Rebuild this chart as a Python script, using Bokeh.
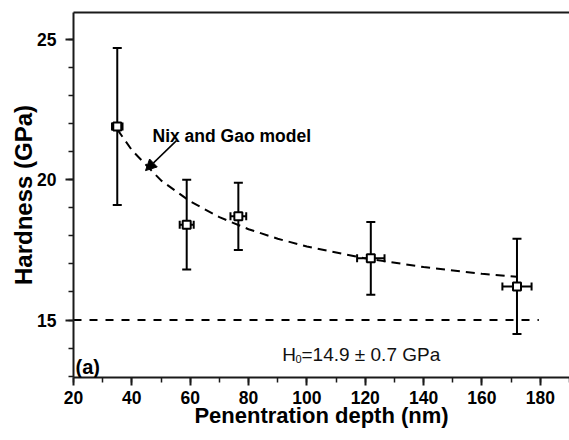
from bokeh.plotting import figure
from bokeh.models import (Whisker, TeeHead, Label, Arrow, NormalHead, LinearAxis,
                          ColumnDataSource, Range1d, FixedTicker)
from bokeh.embed import file_html
from bokeh.resources import INLINE

# ---- data ----
depth = [35.0, 58.8, 76.5, 121.9, 172.0]          # nm
depth_err = [1.8, 2.4, 2.7, 4.7, 5.0]              # nm
hardness = [21.9, 18.4, 18.7, 17.2, 16.2]          # GPa
hardness_err = [2.8, 1.6, 1.2, 1.3, 1.7]           # GPa

model_depth = [35, 40, 50, 60, 70, 80, 90, 100, 120, 140, 160, 172]
model_hardness = [21.8, 21.06, 19.98, 19.23, 18.67, 18.24, 17.90, 17.62, 17.20, 16.89, 16.65, 16.54]

h0_depth = [20, 179.5]
h0_hardness = [15.0, 15.0]

x_ticks = [20, 40, 60, 80, 100, 120, 140, 160, 180]
y_ticks = [15, 20, 25]

FONT = "Liberation Sans"
AX = "#1a1a1a"

p = figure(width=569, height=440, x_range=Range1d(20, 190), y_range=Range1d(12.95, 25.97),
           output_backend="svg", toolbar_location=None,
           min_border_left=73, min_border_right=0, min_border_top=12, min_border_bottom=63)
p.grid.visible = False
p.outline_line_color = None
p.background_fill_color = "white"
p.border_fill_color = "white"

for ax in (p.xaxis[0], p.yaxis[0]):
    ax.axis_line_width = 2
    ax.axis_line_color = AX
    ax.major_tick_line_width = 2
    ax.major_tick_line_color = AX
    ax.minor_tick_line_width = 1.5
    ax.minor_tick_line_color = AX
    ax.major_tick_in = 0
    ax.major_tick_out = 8
    ax.minor_tick_in = 0
    ax.minor_tick_out = 5
    ax.major_label_text_font = FONT
    ax.major_label_text_font_style = "bold"
    ax.major_label_text_font_size = "17.5px"
    ax.major_label_text_color = "black"

p.xaxis[0].ticker = FixedTicker(ticks=x_ticks, minor_ticks=list(range(20, 191, 10)))
p.yaxis[0].ticker = FixedTicker(ticks=y_ticks, minor_ticks=list(range(13, 26)))
p.xaxis[0].major_label_standoff = 5
p.yaxis[0].major_label_standoff = 9

p.xaxis[0].axis_label = "Penentration depth (nm)"
p.xaxis[0].axis_label_text_font = FONT
p.xaxis[0].axis_label_text_font_style = "bold"
p.xaxis[0].axis_label_text_font_size = "22px"
p.xaxis[0].axis_label_text_color = "black"
p.xaxis[0].axis_label_standoff = -4

# top frame line
top = LinearAxis(axis_line_width=2, axis_line_color=AX, ticker=FixedTicker(ticks=[]),
                 major_tick_out=0, minor_tick_out=0, major_label_standoff=0)
p.add_layout(top, "above")

# y title on its own bare axis so it can sit where the reference puts it
ytitle = LinearAxis(axis_line_color=None, ticker=FixedTicker(ticks=[]), bounds=(13.7, 25.9),
                    major_tick_out=0, minor_tick_out=0, major_label_standoff=0,
                    axis_label="Hardness (GPa)", axis_label_text_font=FONT,
                    axis_label_text_font_style="bold", axis_label_text_font_size="24px",
                    axis_label_text_color="black", axis_label_standoff=-2)
p.add_layout(ytitle, "left")

# reference lines
p.line(h0_depth, h0_hardness, line_color="black", line_width=2, line_dash="8 8")
p.line(model_depth, model_hardness, line_color="black", line_width=2, line_dash="9 6")

# error bars
src = ColumnDataSource(dict(
    x=depth, y=hardness,
    ylo=[h - e for h, e in zip(hardness, hardness_err)],
    yhi=[h + e for h, e in zip(hardness, hardness_err)],
    xlo=[d - e for d, e in zip(depth, depth_err)],
    xhi=[d + e for d, e in zip(depth, depth_err)],
))
wy = Whisker(base="x", lower="ylo", upper="yhi", source=src, dimension="height",
             line_width=2, line_color="black",
             upper_head=TeeHead(size=9, line_width=2, line_color="black"),
             lower_head=TeeHead(size=9, line_width=2, line_color="black"))
wx = Whisker(base="y", lower="xlo", upper="xhi", source=src, dimension="width",
             line_width=2, line_color="black",
             upper_head=TeeHead(size=8, line_width=2, line_color="black"),
             lower_head=TeeHead(size=8, line_width=2, line_color="black"))
p.add_layout(wy)
p.add_layout(wx)

p.scatter("x", "y", source=src, marker="square", size=8, fill_color="white",
          line_color="black", line_width=2)

# annotations
p.add_layout(Label(x=47.08, y=21.55, text="Nix and Gao model", text_font=FONT,
                   text_font_style="bold", text_font_size="17.5px", text_color="black",
                   text_baseline="alphabetic", text_align="left"))
p.add_layout(Arrow(x_start=55.3, y_start=21.40, x_end=44.68, y_end=20.33,
                   line_width=1.5, line_color="black",
                   end=NormalHead(size=11, fill_color="black", line_color="black", line_width=1)))
p.add_layout(Label(x=91.53, y=13.76, text="H", text_font=FONT, text_font_size="19px",
                   text_color="#111111", text_baseline="alphabetic", text_align="left"))
p.add_layout(Label(x=96.09, y=13.61, text="0", text_font=FONT, text_font_size="11px",
                   text_color="#111111", text_baseline="alphabetic", text_align="left"))
p.add_layout(Label(x=98.14, y=13.76, text="=14.9 \u00b1 0.7 GPa", text_font=FONT,
                   text_font_size="19px", text_color="#111111",
                   text_baseline="alphabetic", text_align="left"))
p.add_layout(Label(x=20.69, y=13.32, text="(a)", text_font=FONT, text_font_style="bold",
                   text_font_size="20px", text_color="black",
                   text_baseline="alphabetic", text_align="left"))

open("out.html", "w").write(file_html(p, INLINE))
